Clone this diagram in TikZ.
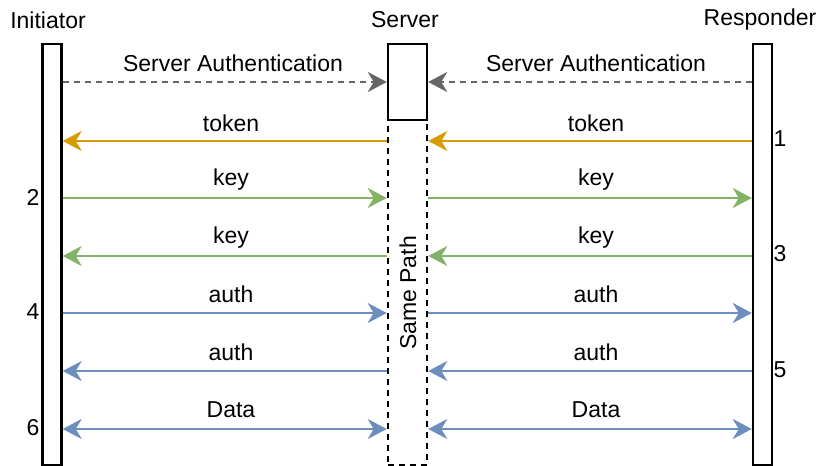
\documentclass[tikz,border=0pt]{standalone}
\usepackage{fontspec}
\setmainfont{Liberation Sans}
\usetikzlibrary{arrows.meta}
\definecolor{authgray}{HTML}{666666}
\definecolor{tokenorange}{HTML}{D79B00}
\definecolor{keygreen}{HTML}{82B366}
\definecolor{authblue}{HTML}{6C8EBF}
\begin{document}
\begin{tikzpicture}[x=1pt,y=-1pt,
  every node/.style={font=\fontsize{23}{27}\selectfont, inner sep=0pt},
  lane/.style={draw=black, line width=2.4pt, fill=white, minimum width=19pt},
  pathbox/.style={draw=black, line width=2.6pt, dash pattern=on 6pt off 5pt},
  tip/.style={Stealth[length=19pt,width=20pt,inset=6pt]},
  msg/.style={line width=2.5pt, -{Stealth[length=19pt,width=20pt,inset=6pt]}},
  both/.style={line width=2.5pt, {Stealth[length=19pt,width=20pt,inset=6pt]}-{Stealth[length=19pt,width=20pt,inset=6pt]}},
  lbl/.style={anchor=center}
]
\useasboundingbox (0,0) rectangle (820,466);

% lifelines
\node[lane, minimum height=421pt] (ini) at (52,254.5) {};
\node[lane, minimum height=421pt] (res) at (762.5,254.5) {};
\node[pathbox, minimum width=39pt, minimum height=345pt] (path) at (407.5,292.5) {};
\node[lane, minimum width=39pt, minimum height=76pt] (srv) at (407.5,82) {};

% titles
\node (tini) at (48,20) {Initiator};
\node (tsrv) at (405,20) {Server};
\node (tres) at (760,20) {Responder};
\node[rotate=90] (same) at (408,293) {Same Path};

% server authentication
\draw[msg, authgray, dash pattern=on 6pt off 5pt] (ini.east |- 0,82) -- (srv.west |- 0,82);
\draw[msg, authgray, dash pattern=on 6pt off 5pt] (res.west |- 0,82) -- (srv.east |- 0,82);
\node (sa1) at (233,63) {Server Authentication};
\node (sa2) at (596,63) {Server Authentication};

% token
\draw[msg, tokenorange] (path.west |- 0,141) -- (ini.east |- 0,141);
\draw[msg, tokenorange] (res.west |- 0,141) -- (path.east |- 0,141);
\node (tk1) at (231,123) {token};
\node (tk2) at (596,123) {token};

% key exchange
\draw[msg, keygreen] (ini.east |- 0,198) -- (path.west |- 0,198);
\draw[msg, keygreen] (path.east |- 0,198) -- (res.west |- 0,198);
\node (k1) at (231,180) {key};
\node (k2) at (596,180) {key};
\draw[msg, keygreen] (path.west |- 0,256) -- (ini.east |- 0,256);
\draw[msg, keygreen] (res.west |- 0,256) -- (path.east |- 0,256);
\node (k3) at (231,238) {key};
\node (k4) at (596,238) {key};

% auth exchange
\draw[msg, authblue] (ini.east |- 0,313) -- (path.west |- 0,313);
\draw[msg, authblue] (path.east |- 0,313) -- (res.west |- 0,313);
\node (a1) at (231,294) {auth};
\node (a2) at (596,294) {auth};
\draw[msg, authblue] (path.west |- 0,371) -- (ini.east |- 0,371);
\draw[msg, authblue] (res.west |- 0,371) -- (path.east |- 0,371);
\node (a3) at (231,352) {auth};
\node (a4) at (596,352) {auth};

% data
\draw[both, authblue] (ini.east |- 0,429) -- (path.west |- 0,429);
\draw[both, authblue] (path.east |- 0,429) -- (res.west |- 0,429);
\node (d1) at (231,410) {Data};
\node (d2) at (596,410) {Data};

% step numbers
\node (n1) at (780,139) {1};
\node (n2) at (33,197) {2};
\node (n3) at (780,254) {3};
\node (n4) at (33,312) {4};
\node (n5) at (780,370) {5};
\node (n6) at (33,428) {6};
\end{tikzpicture}
\end{document}
